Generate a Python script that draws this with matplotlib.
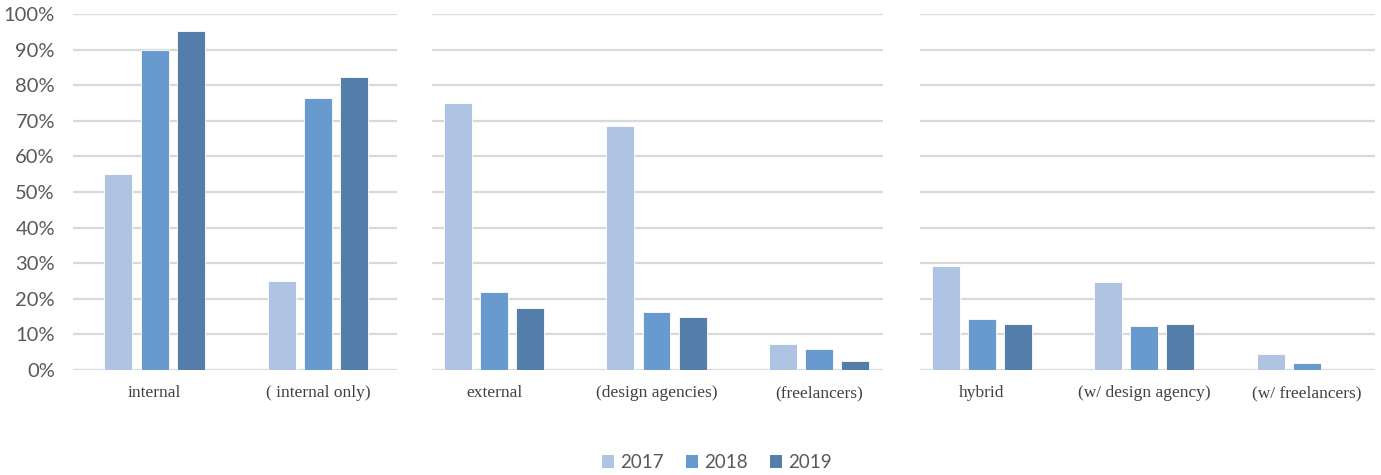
import numpy as np
import matplotlib.pyplot as plt
from matplotlib.patches import Patch

years = ["2017", "2018", "2019"]
colors = ["#AFC4E2", "#689ACF", "#557DAA"]

# three panels: category labels and values (%) per year
panel_labels = [
    ["internal", "( internal only)"],
    ["external", "(design agencies)", "(freelancers)"],
    ["hybrid", "(w/ design agency)", "(w/ freelancers)"],
]
values_2017 = [[55, 25], [75, 68.5, 7.2], [29.3, 24.7, 4.6]]
values_2018 = [[90, 76.3], [22, 16.2, 5.9], [14.3, 12.4, 2.0]]
values_2019 = [[95.2, 82.2], [17.5, 15, 2.6], [13, 13, 0]]

ytick_values = list(range(0, 101, 10))

# axes rectangles in figure fractions, and x limits in category units
axes_rects = [
    [0.0529, 0.221, 0.2346, 0.7495],
    [0.3128, 0.221, 0.3266, 0.7495],
    [0.6662, 0.221, 0.3295, 0.7495],
]
axes_xlims = [(-0.5, 1.485), (-0.382, 2.394), (-0.38, 2.42)]

grid_color = "#D9D9D9"
tick_color = "#595959"

fig = plt.figure(figsize=(13.81, 4.75), dpi=100)

series = [values_2017, values_2018, values_2019]
offsets = [-0.222, 0.0, 0.222]
bar_width = 0.172

for p, labels in enumerate(panel_labels):
    ax = fig.add_axes(axes_rects[p])
    x = np.arange(len(labels))
    for s, vals in enumerate(series):
        ax.bar(x + offsets[s], vals[p], width=bar_width, color=colors[s],
               edgecolor="white", linewidth=0.6, zorder=3)

    ax.set_ylim(0, 100)
    ax.set_xlim(*axes_xlims[p])
    ax.set_yticks(ytick_values)
    for v in ytick_values:
        ax.axhline(v, color=grid_color, linewidth=1.6, zorder=1)

    ax.set_xticks(x)
    ax.set_xticklabels(labels, family="Liberation Serif", fontsize=12.5,
                       color="#404040")
    ax.tick_params(axis="x", length=0, pad=11)

    if p == 0:
        ax.set_yticklabels([f"{v}%" for v in ytick_values], family="Lato",
                           fontsize=14.5, color=tick_color)
        ax.tick_params(axis="y", length=0, pad=13)
    else:
        ax.set_yticklabels([])
        ax.tick_params(axis="y", length=0)

    for spine in ax.spines.values():
        spine.set_visible(False)
    ax.set_facecolor("none")

handles = [Patch(facecolor=c, edgecolor="none") for c in colors]
fig.legend(handles, years, loc="center", bbox_to_anchor=(0.519, 0.026),
           ncol=3, frameon=False, handlelength=0.65, handleheight=0.65,
           handletextpad=0.3, columnspacing=1.2,
           prop={"family": "Lato", "size": 13.5}, labelcolor=tick_color)

fig.savefig("out.png", dpi=100)
